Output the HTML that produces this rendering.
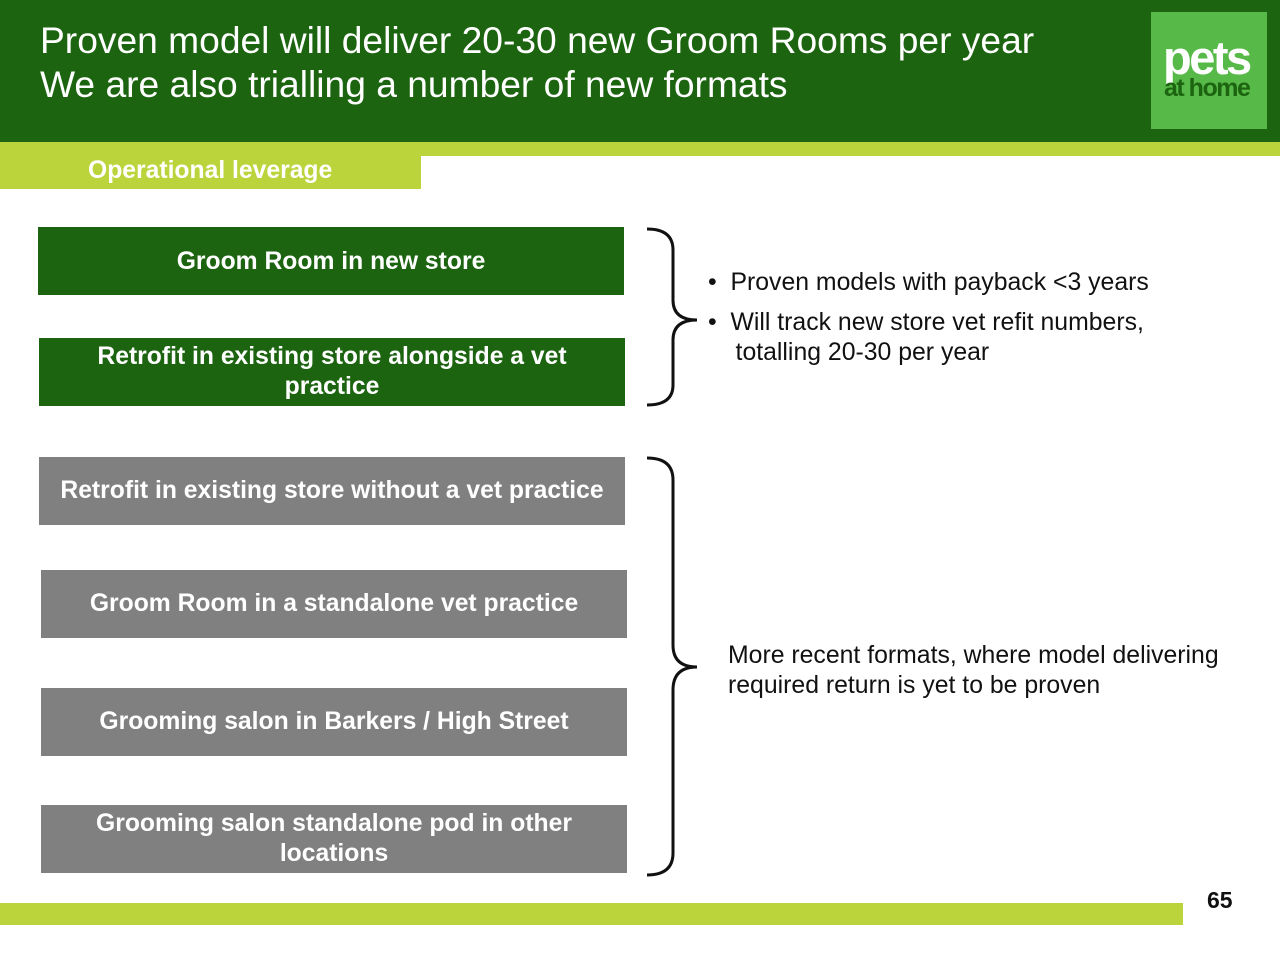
<!DOCTYPE html>
<html><head><style>
body{margin:0;width:1280px;height:960px;background:#fff;position:relative;font-family:"Liberation Sans",sans-serif;overflow:hidden}
.a{position:absolute}
.box{position:absolute;color:#fff;font-weight:bold;font-size:24.7px;display:flex;align-items:center;justify-content:center;text-align:center;line-height:30px}
.g{background:#1c6410}.gr{background:#808080}
.t{position:absolute;font-size:24.8px;color:#111;line-height:30px}
</style></head><body>
<div class="a" style="left:0;top:0;width:1280px;height:142px;background:#1c6410"></div>
<div class="a" style="left:40px;top:18px;color:#fff;font-size:37.2px;line-height:44px">Proven model will deliver 20-30 new Groom Rooms per year<br>We are also trialling a number of new formats</div>
<div class="a" style="left:1151px;top:12px;width:116px;height:117px;background:#57b947"></div>
<div class="a" style="left:1163px;top:30px;color:#fff;font-weight:bold;font-size:47px;letter-spacing:-2.5px">pets</div>
<div class="a" style="left:1164px;top:74px;color:#1c6410;font-weight:bold;font-size:25px;letter-spacing:-1.5px">at home</div>
<div class="a" style="left:0;top:142px;width:1280px;height:14px;background:#bcd43c"></div>
<div class="a" style="left:0;top:142px;width:421px;height:47px;background:#bcd43c"></div>
<div class="a" style="left:88px;top:157px;color:#fff;font-weight:bold;font-size:24.7px">Operational leverage</div>
<div class="box g" style="left:38px;top:227px;width:586px;height:68px;align-items:flex-start;padding-top:20px;box-sizing:border-box">Groom Room in new store</div>
<div class="box g" style="left:39px;top:338px;width:586px;height:68px">Retrofit in existing store alongside a vet<br>practice</div>
<div class="box gr" style="left:39px;top:457px;width:586px;height:68px">Retrofit in existing store without a vet practice</div>
<div class="box gr" style="left:41px;top:570px;width:586px;height:68px">Groom Room in a standalone vet practice</div>
<div class="box gr" style="left:41px;top:688px;width:586px;height:68px">Grooming salon in Barkers / High Street</div>
<div class="box gr" style="left:41px;top:805px;width:586px;height:68px">Grooming salon standalone pod in other<br>locations</div>
<svg class="a" style="left:0;top:0" width="1280" height="960"><g fill="none" stroke="#111" stroke-width="3">
<path d="M647 229 Q673 229 673 250 L673 300 Q673 320 697 320 Q673 320 673 340 L673 385 Q673 405 647 405"/>
<path d="M647 458 Q673 458 673 480 L673 645 Q673 667 697 667 Q673 667 673 690 L673 853 Q673 875 647 875"/>
</g></svg>
<div class="t" style="left:708px;top:268px">•&nbsp;&nbsp;Proven models with payback &lt;3 years</div>
<div class="t" style="left:708px;top:308px">•&nbsp;&nbsp;Will track new store vet refit numbers,<br>&nbsp;&nbsp;&nbsp;&nbsp;totalling 20-30 per year</div>
<div class="t" style="left:728px;top:641px">More recent formats, where model delivering<br>required return is yet to be proven</div>
<div class="a" style="left:0;top:903px;width:1183px;height:22px;background:#bcd43c"></div>
<div class="a" style="left:1207px;top:887px;font-size:23px;color:#111;font-weight:bold">65</div>
</body></html>
